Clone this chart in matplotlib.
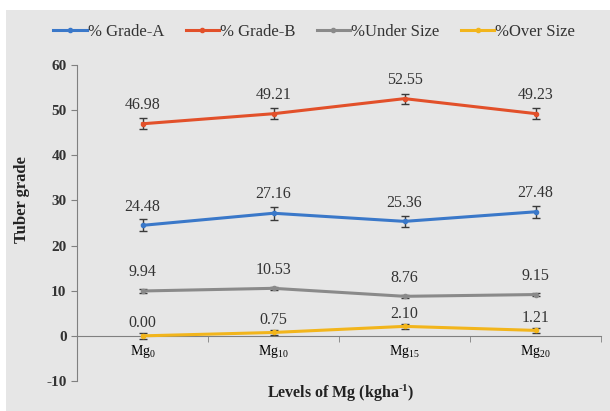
import matplotlib
matplotlib.use("Agg")
import matplotlib.pyplot as plt
from matplotlib.patches import Rectangle
from matplotlib.ticker import FuncFormatter
import numpy as np

levels = ["Mg$_{0}$", "Mg$_{10}$", "Mg$_{15}$", "Mg$_{20}$"]
grade_a = [24.48, 27.16, 25.36, 27.48]
grade_b = [46.98, 49.21, 52.55, 49.23]
under_size = [9.94, 10.53, 8.76, 9.15]
over_size = [0.00, 0.75, 2.10, 1.21]

err_a = [1.3, 1.4, 1.3, 1.3]
err_b = [1.2, 1.2, 1.1, 1.2]
err_under = [0.5, 0.4, 0.4, 0.4]
err_over = [0.6, 0.6, 0.5, 0.6]

series_names = ["% Grade-A", "% Grade-B", "%Under Size", "%Over Size"]
colors = ["#3a78c9", "#e2502a", "#8a8a8a", "#f2b51c"]
label_offsets = [13.5, 13.5, 13.5, 9.0]  # points above each value

plt.rcParams["font.family"] = ["Liberation Serif", "DejaVu Serif"]
plt.rcParams["mathtext.fontset"] = "custom"
plt.rcParams["mathtext.rm"] = "Liberation Serif"
plt.rcParams["mathtext.it"] = "Liberation Serif"
plt.rcParams["mathtext.bf"] = "Liberation Serif:bold"

fig = plt.figure(figsize=(6.1, 4.11), dpi=100)
fig.patch.set_facecolor("white")
fig.patches.append(Rectangle((6 / 610, 0), 1, 1 - 10 / 411, transform=fig.transFigure,
                             facecolor="#e6e6e6", edgecolor="none", zorder=-5))

ax = fig.add_axes([77 / 610, 1 - 381 / 411, 524 / 610, 316 / 411])
ax.set_facecolor("none")
ax.set_zorder(2)

x = np.arange(len(levels)) + 0.5
all_series = [grade_a, grade_b, under_size, over_size]
all_err = [err_a, err_b, err_under, err_over]
handles = []
for vals, errs, name, c, off in zip(all_series, all_err, series_names, colors, label_offsets):
    ax.errorbar(x, vals, yerr=errs, fmt="none", ecolor="#3a3a3a", elinewidth=1,
                capsize=3, capthick=1, zorder=3)
    h, = ax.plot(x, vals, color=c, lw=2.2, marker="o", ms=3, label=name, zorder=4)
    handles.append(h)
    for xi, v in zip(x, vals):
        ax.annotate(f"{v:.2f}", (xi, v), xytext=(0, off), textcoords="offset points",
                    ha="center", va="center", fontsize=11.5, color="#333333")

ax.set_xlim(0, 4)
ax.set_ylim(-10, 60)
ax.set_yticks(np.arange(-10, 61, 10))
ax.yaxis.set_major_formatter(FuncFormatter(lambda v, p: f"{int(v)}".replace("\u2212", "-")))
ax.tick_params(axis="y", direction="out", length=4, color="#808080", labelsize=11)
for lab in ax.get_yticklabels():
    lab.set_fontweight("bold")
    lab.set_color("#333333")

ax.set_xticks(x)
ax.set_xticklabels(levels, fontsize=14.5, color="#333333")
ax.set_xticks(np.arange(0, 5), minor=True)
ax.tick_params(axis="x", which="major", length=0, pad=5)
ax.tick_params(axis="x", which="minor", direction="out", length=4, color="#808080")

ax.spines["top"].set_visible(False)
ax.spines["right"].set_visible(False)
ax.spines["bottom"].set_position(("data", 0))
ax.spines["bottom"].set_color("#808080")
ax.spines["left"].set_color("#808080")

fig.text(22 / 610, 1 - 200 / 411, "Tuber grade", rotation=90, ha="center", va="center",
         fontsize=12, fontweight="bold", color="#222222")
fig.text(341 / 610, 1 - 393 / 411, r"Levels of Mg (kgha$^{\mathbf{\text{-}1}}$)",
         ha="center", va="center", fontsize=11.5, fontweight="bold", color="#222222")

fig.legend(handles=handles, loc="center", bbox_to_anchor=(0.515, 1 - 32 / 411), ncol=4,
           frameon=False, fontsize=12, handlelength=2.0, columnspacing=1.3,
           handletextpad=0.05, labelcolor="#333333")

fig.savefig("out.png", dpi=100, facecolor=fig.get_facecolor())
